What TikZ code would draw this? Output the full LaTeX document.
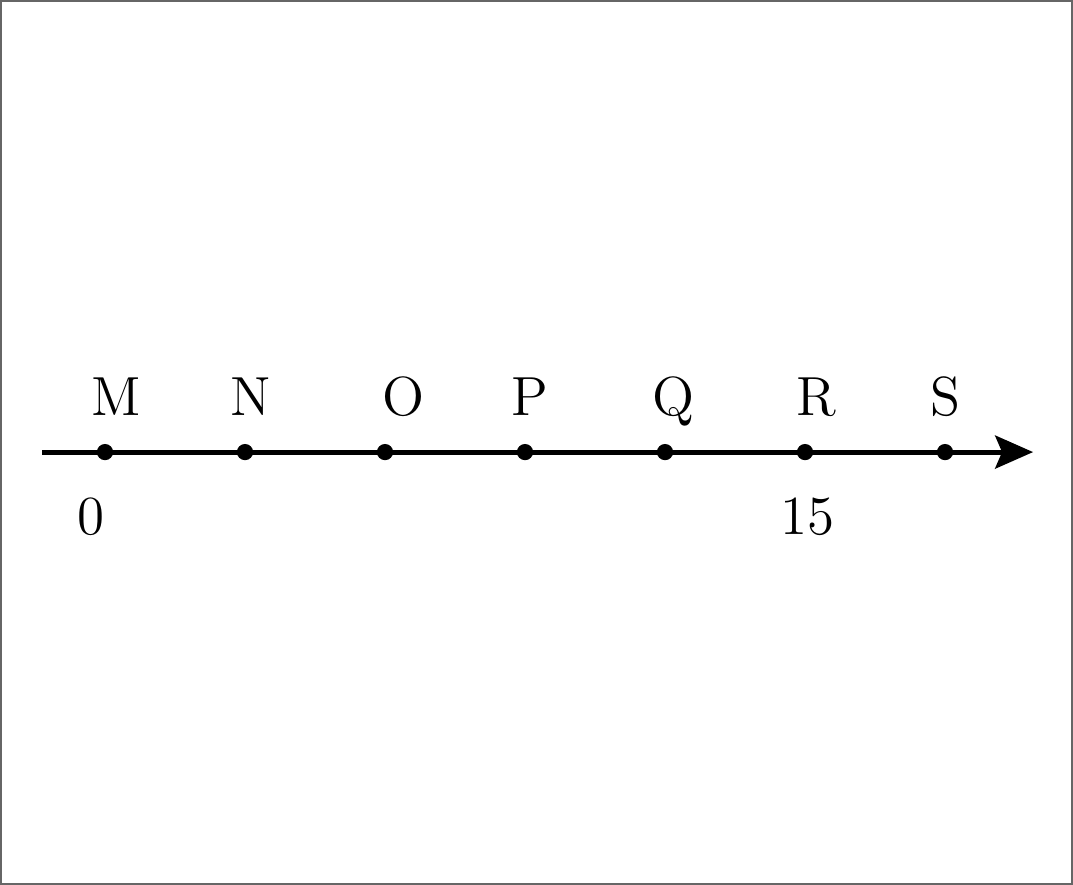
\documentclass[tikz,border=0pt]{standalone}
\usepackage{tikz}
\usetikzlibrary{arrows.meta}
\tikzset{
  nl/dot/.style={circle, fill=black, inner sep=0pt, minimum size=3.3pt},
  nl/lbl/.style={anchor=base, inner sep=0pt, font=\fontsize{11.2}{13}\selectfont},
  nl/axis/.style={-{Stealth[length=7.7pt, width=6.7pt, inset=1.4pt]}, line width=1pt}
}
\begin{document}
\begin{tikzpicture}[x=1cm, y=1cm]
  % --- Rahmen ---
  \useasboundingbox (-0.75,-3.086) rectangle (6.914,3.229);
  \draw[black!60, line width=0.4pt] (-0.746,-3.082) rectangle (6.91,3.225);

  % --- Zahlenstrahl ---
  \coordinate (start) at (-0.45,0);
  \coordinate (tip) at (6.629,0);
  \draw[nl/axis] (start) -- (tip);

  \node[nl/dot] (m) at (0,0) {};
  \node[nl/dot] (n) at (1,0) {};
  \node[nl/dot] (o) at (2,0) {};
  \node[nl/dot] (p) at (3,0) {};
  \node[nl/dot] (q) at (4,0) {};
  \node[nl/dot] (r) at (5,0) {};
  \node[nl/dot] (s) at (6,0) {};

  % --- Punkte ---
  \node[nl/lbl] (lm) at (0.079,0.264) {M};
  \node[nl/lbl] (ln) at (1.043,0.264) {N};
  \node[nl/lbl] (lo) at (2.129,0.264) {O};
  \node[nl/lbl] (lp) at (3.036,0.264) {P};
  \node[nl/lbl] (lq) at (4.057,0.264) {Q};
  \node[nl/lbl] (lr) at (5.079,0.264) {R};
  \node[nl/lbl] (ls) at (6.0,0.264) {S};

  % --- Werte ---
  \node[nl/lbl] (v0) at (-0.1,-0.586) {0};
  \node[nl/lbl] (v15) at (5.021,-0.586) {15};
\end{tikzpicture}
\end{document}
